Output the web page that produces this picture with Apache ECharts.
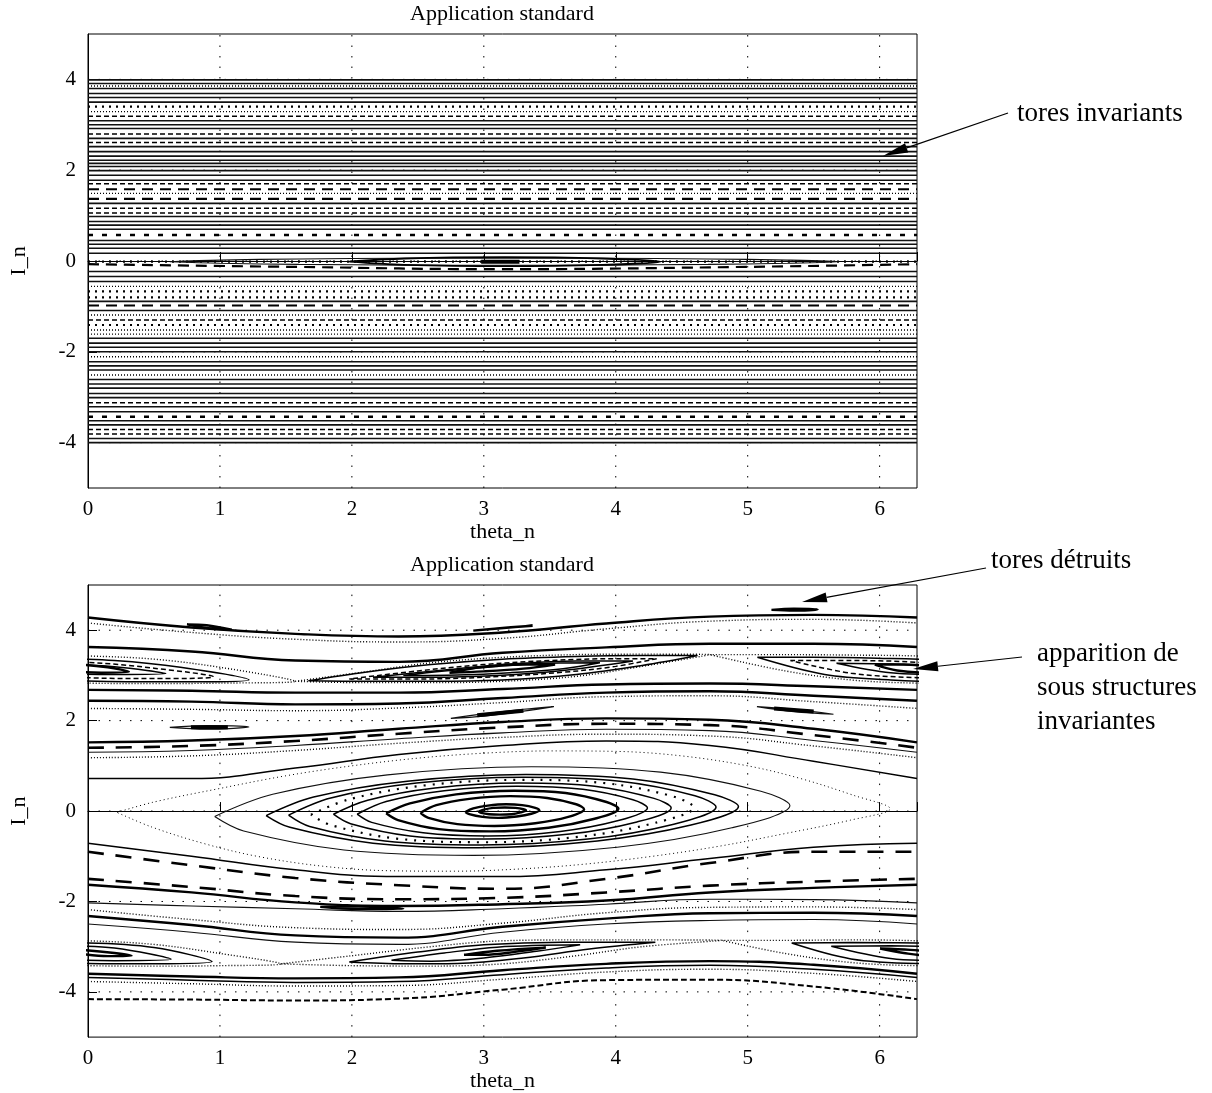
<!DOCTYPE html>
<html><head><meta charset="utf-8">
<script src="https://cdn.jsdelivr.net/npm/echarts@6/dist/echarts.min.js"></script>
<style>html,body{margin:0;padding:0;background:#fff}#c{width:1212px;height:1093px}</style>
</head><body><div id="c"></div>
<script>
const TWO_PI = 6.283185307179586;
const xTicks = [0, 1, 2, 3, 4, 5, 6];
const yTicks = [-4, -2, 0, 2, 4];
const titleText = 'Application standard';
const xName = 'theta_n';
const yName = 'I_n';

// ---------- top panel (weak kick): horizontal invariant tori ----------
const topSolidLevels = [3.99, 3.91, 3.80, 3.69, 3.60, 3.50, 3.09, 3.00, 2.92, 2.70, 2.52, 2.41, 2.31, 2.22, 2.15, 2.08, 1.99, 1.89, 1.78, 1.27, 0.98, 0.87, 0.79, 0.70, 0.45, 0.37, 0.28, 0.17, -0.23, -0.34, -0.45, -0.89, -1.09, -1.70, -1.81, -1.90, -2.00, -2.22, -2.31, -2.40, -2.61, -2.71, -2.80, -2.92, -3.01, -3.21, -3.32, -3.52, -3.61, -3.91, -4.00];
const topFineDotLevels = [3.855, 3.29, 1.49, -0.56, -1.19, -1.52, -1.61, -2.11, -2.51];
const topBoldDotLevels = [3.40, -0.015, -0.67, -0.80, -1.41];
const topShortDashLevels = [0.57, -3.43];
const topDashLevels = [3.19, 2.80, 2.61, 1.70, 1.16, 1.06, -1.30, -3.12, -3.71, -3.81];
const topLongDashLevels = [1.58, 1.37, -0.98];
const topCurveTheta = [0, 1.571, 3.142, 4.712, 6.283];
const topDashCurve = [-0.07, -0.13, -0.18, -0.14, -0.07];
const lensOuter = [[0.62,-0.015],[1.0,0.02],[1.6,0.045],[2.4,0.06],[3.15,0.065],[3.9,0.06],[4.7,0.045],[5.3,0.02],[5.69,-0.015],[5.3,-0.05],[4.7,-0.075],[3.9,-0.09],[3.15,-0.095],[2.4,-0.09],[1.6,-0.075],[1.0,-0.05],[0.62,-0.015]];
const lensMid = [[1.98,-0.015],[2.4,0.055],[3.16,0.085],[3.9,0.055],[4.34,-0.015],[3.9,-0.085],[3.16,-0.115],[2.4,-0.085],[1.98,-0.015]];
const lensCore = [[2.98,-0.015],[3.27,-0.015]];

// ---------- bottom panel (stronger kick) ----------
const TH = [0, 0.785, 1.571, 2.356, 3.142, 3.927, 4.712, 5.498, 6.283];
const U1a = [4.28, 4.06, 3.92, 3.86, 3.95, 4.15, 4.30, 4.34, 4.28];
const U1b = [4.16, 3.95, 3.80, 3.74, 3.82, 4.03, 4.20, 4.24, 4.16];
const U2  = [3.63, 3.53, 3.33, 3.30, 3.50, 3.62, 3.70, 3.70, 3.63];
const M1  = [2.68, 2.66, 2.62, 2.62, 2.70, 2.80, 2.82, 2.76, 2.68];
const M2  = [2.44, 2.42, 2.36, 2.38, 2.50, 2.62, 2.65, 2.55, 2.44];
const M3  = [2.27, 2.25, 2.22, 2.28, 2.40, 2.53, 2.55, 2.42, 2.27];
const B1  = [1.52, 1.56, 1.66, 1.82, 1.97, 2.05, 2.02, 1.82, 1.52];
const B2  = [1.40, 1.44, 1.55, 1.71, 1.85, 1.93, 1.90, 1.68, 1.40];
const B3  = [1.30, 1.34, 1.45, 1.60, 1.73, 1.81, 1.78, 1.56, 1.30];
const B4  = [1.18, 1.22, 1.34, 1.50, 1.63, 1.70, 1.66, 1.44, 1.18];
const R1  = [0.72, 0.72, 0.95, 1.25, 1.45, 1.55, 1.45, 1.10, 0.72];
const R1m = [-0.71, -1.00, -1.30, -1.45, -1.45, -1.30, -1.05, -0.80, -0.71];
const D1  = [-0.90, -1.20, -1.48, -1.64, -1.72, -1.50, -1.15, -0.90, -0.90];
const D2  = [-1.50, -1.68, -1.88, -1.95, -1.92, -1.80, -1.65, -1.56, -1.50];
const La  = [-1.63, -1.80, -2.02, -2.10, -2.06, -1.98, -1.80, -1.70, -1.63];
const Lb  = [-2.03, -2.10, -2.16, -2.22, -2.16, -2.06, -1.95, -1.96, -2.03];
const Lc  = [-2.18, -2.40, -2.58, -2.62, -2.48, -2.25, -2.13, -2.12, -2.18];
const Ld  = [-2.32, -2.52, -2.75, -2.80, -2.56, -2.38, -2.26, -2.25, -2.32];
const Le  = [-2.50, -2.68, -2.90, -2.95, -2.68, -2.50, -2.42, -2.40, -2.50];
const W1  = [-3.60, -3.66, -3.70, -3.68, -3.52, -3.38, -3.32, -3.40, -3.60];
const W2  = [-3.68, -3.74, -3.79, -3.77, -3.62, -3.47, -3.41, -3.50, -3.68];
const W3  = [-3.77, -3.82, -3.87, -3.86, -3.72, -3.56, -3.50, -3.59, -3.77];
const W4  = [-4.16, -4.17, -4.19, -4.15, -3.95, -3.74, -3.73, -3.88, -4.16];

// central island (theta, I)
const sepMain = [[0.22,-0.03],[0.5,0.2],[1.0,0.5],[1.5,0.78],[2.0,1.0],[2.5,1.17],[3.0,1.28],[3.5,1.33],[4.0,1.32],[4.5,1.22],[5.0,1.0],[5.4,0.72],[5.8,0.35],[6.08,0.05],[5.78,-0.2],[5.28,-0.5],[4.78,-0.78],[4.28,-1.0],[3.78,-1.17],[3.28,-1.28],[2.78,-1.33],[2.28,-1.32],[1.78,-1.22],[1.28,-1.0],[0.88,-0.72],[0.48,-0.35],[0.22,-0.03]];
const C2 = [[0.96,-0.12],[1.40,0.37],[2.27,0.80],[3.36,0.98],[4.34,0.86],[5.10,0.44],[5.32,0.12],[4.88,-0.37],[4.01,-0.80],[2.92,-0.98],[1.94,-0.86],[1.18,-0.44],[0.96,-0.12]];
const C3 = [[1.35,-0.10],[1.71,0.31],[2.42,0.66],[3.32,0.81],[4.13,0.71],[4.75,0.36],[4.93,0.10],[4.57,-0.31],[3.86,-0.66],[2.96,-0.81],[2.16,-0.71],[1.53,-0.36],[1.35,-0.10]];
const C4 = [[1.52,-0.09],[1.84,0.29],[2.49,0.62],[3.30,0.75],[4.03,0.66],[4.60,0.34],[4.76,0.09],[4.44,-0.29],[3.79,-0.62],[2.98,-0.75],[2.25,-0.66],[1.68,-0.34],[1.52,-0.09]];
const C5 = [[1.69,-0.08],[1.98,0.26],[2.56,0.57],[3.29,0.69],[3.94,0.61],[4.45,0.31],[4.59,0.08],[4.30,-0.26],[3.72,-0.57],[3.00,-0.69],[2.34,-0.61],[1.84,-0.31],[1.69,-0.08]];
const C6 = [[1.86,-0.07],[2.12,0.24],[2.63,0.51],[3.27,0.62],[3.84,0.55],[4.29,0.28],[4.42,0.07],[4.16,-0.24],[3.65,-0.51],[3.01,-0.62],[2.44,-0.55],[1.99,-0.28],[1.86,-0.07]];
const C7 = [[2.04,-0.07],[2.26,0.21],[2.70,0.45],[3.25,0.55],[3.75,0.48],[4.13,0.25],[4.24,0.07],[4.02,-0.21],[3.58,-0.45],[3.03,-0.55],[2.54,-0.48],[2.15,-0.25],[2.04,-0.07]];
const C8 = [[2.26,-0.05],[2.44,0.17],[2.79,0.37],[3.23,0.45],[3.62,0.40],[3.93,0.20],[4.02,0.05],[3.84,-0.17],[3.49,-0.37],[3.05,-0.45],[2.66,-0.40],[2.35,-0.20],[2.26,-0.05]];
const C9 = [[2.52,-0.04],[2.64,0.13],[2.89,0.27],[3.20,0.33],[3.48,0.29],[3.70,0.15],[3.76,0.04],[3.64,-0.13],[3.39,-0.27],[3.08,-0.33],[2.80,-0.29],[2.58,-0.15],[2.52,-0.04]];
const C10 = [[2.86,-0.02],[2.92,0.06],[3.03,0.12],[3.17,0.15],[3.29,0.13],[3.39,0.07],[3.42,0.02],[3.36,-0.06],[3.25,-0.12],[3.11,-0.15],[2.99,-0.13],[2.89,-0.07],[2.86,-0.02]];
const C11 = [[2.96,-0.01],[3.00,0.03],[3.07,0.07],[3.16,0.08],[3.24,0.07],[3.30,0.04],[3.32,0.01],[3.28,-0.03],[3.21,-0.07],[3.12,-0.08],[3.04,-0.07],[2.98,-0.04],[2.96,-0.01]];

// period-2 chain near I = +pi (island around theta = 0 given with negative theta)
const chainU0sep = [[-1.57,3.46],[-1.0,3.46],[-0.5,3.45],[0,3.43],[0.5,3.36],[1.0,3.18],[1.57,2.87],[1.0,2.83],[0.5,2.82],[0,2.83],[-0.5,2.90],[-1.0,3.10],[-1.57,3.46]];
const chainU0a = [[-1.21,3.40],[-0.8,3.40],[-0.3,3.38],[0.2,3.33],[0.7,3.18],[1.22,2.90],[0.8,2.86],[0.3,2.86],[-0.2,2.90],[-0.7,3.02],[-1.21,3.40]];
const chainU0b = [[-0.96,3.33],[-0.5,3.33],[0,3.29],[0.5,3.16],[0.95,2.97],[0.5,2.93],[0,2.95],[-0.5,3.05],[-0.96,3.33]];
const chainU0c = [[-0.61,3.27],[-0.2,3.25],[0.2,3.19],[0.59,3.04],[0.2,3.02],[-0.2,3.06],[-0.61,3.27]];
const chainU0in = [[-0.32,3.24],[-0.1,3.24],[0.15,3.18],[0.31,3.08],[0.1,3.06],[-0.15,3.11],[-0.32,3.24]];
const chainUPsep = [[1.57,2.87],[2.1,2.84],[2.6,2.84],[3.14,2.87],[3.7,2.98],[4.2,3.2],[4.71,3.46],[4.2,3.47],[3.7,3.46],[3.14,3.40],[2.6,3.28],[2.1,3.08],[1.57,2.87]];
const chainUPa = [[1.67,2.88],[2.1,2.87],[2.6,2.87],[3.14,2.90],[3.7,3.02],[4.2,3.22],[4.62,3.44],[4.2,3.44],[3.7,3.42],[3.14,3.36],[2.6,3.24],[2.1,3.07],[1.67,2.88]];
const chainUPb = [[1.98,2.92],[2.5,2.92],[3.0,2.96],[3.6,3.07],[4.0,3.2],[4.31,3.37],[4.0,3.37],[3.5,3.33],[3.0,3.24],[2.5,3.1],[1.98,2.92]];
const chainUPc = [[2.16,2.96],[2.6,2.96],[3.1,3.0],[3.6,3.11],[4.13,3.32],[3.7,3.32],[3.2,3.25],[2.7,3.12],[2.16,2.96]];
const chainUPd = [[2.39,3.0],[2.8,3.01],[3.2,3.06],[3.6,3.15],[3.88,3.28],[3.5,3.27],[3.1,3.2],[2.7,3.1],[2.39,3.0]];
const chainUPin = [[2.74,3.06],[3.0,3.09],[3.3,3.15],[3.54,3.24],[3.3,3.24],[3.0,3.19],[2.74,3.06]];

// period-2 chain near I = -pi
const chainL0sep = [[-1.48,-2.86],[-1.0,-2.86],[-0.5,-2.85],[0,-2.87],[0.5,-2.95],[1.0,-3.15],[1.46,-3.38],[1.0,-3.42],[0.5,-3.43],[0,-3.42],[-0.5,-3.35],[-1.0,-3.15],[-1.48,-2.86]];
const chainL0a = [[-0.95,-2.92],[-0.5,-2.91],[0,-2.92],[0.5,-3.02],[0.94,-3.33],[0.5,-3.38],[0,-3.37],[-0.5,-3.27],[-0.95,-2.92]];
const chainL0b = [[-0.65,-2.99],[-0.2,-2.98],[0.2,-3.03],[0.63,-3.28],[0.2,-3.31],[-0.2,-3.26],[-0.65,-2.99]];
const chainL0in = [[-0.28,-3.04],[-0.05,-3.07],[0.2,-3.14],[0.33,-3.2],[0.15,-3.21],[-0.1,-3.14],[-0.28,-3.04]];
const chainLPsep = [[1.46,-3.38],[2.0,-3.2],[2.6,-3.0],[3.14,-2.87],[3.7,-2.85],[4.2,-2.85],[4.8,-2.86],[4.2,-3.0],[3.7,-3.2],[3.14,-3.38],[2.6,-3.43],[2.0,-3.42],[1.46,-3.38]];
const chainLPa = [[1.98,-3.34],[2.5,-3.12],[3.0,-2.96],[3.6,-2.9],[4.3,-2.9],[3.8,-3.05],[3.3,-3.25],[2.8,-3.37],[2.4,-3.38],[1.98,-3.34]];
const chainLPb = [[2.3,-3.3],[2.7,-3.14],[3.1,-3.01],[3.73,-2.96],[3.4,-3.1],[3.0,-3.25],[2.6,-3.32],[2.3,-3.3]];
const chainLPin = [[2.85,-3.18],[3.1,-3.09],[3.47,-3.02],[3.25,-3.11],[3.0,-3.18],[2.85,-3.18]];

// small island chains
const T1 = [[0.75,4.13],[0.9,4.11],[1.09,4.01],[0.93,4.04],[0.75,4.13]];
const T2 = [[2.92,3.99],[3.1,4.04],[3.37,4.10],[3.15,4.05],[2.92,3.99]];
const T3 = [[5.18,4.45],[5.35,4.475],[5.53,4.46],[5.35,4.435],[5.18,4.45]];
const P1 = [[0.62,1.85],[0.9,1.89],[1.22,1.86],[0.9,1.81],[0.62,1.85]];
const P1in = [[0.78,1.855],[1.06,1.855]];
const P2 = [[2.75,2.05],[3.0,2.15],[3.3,2.25],[3.53,2.31],[3.3,2.21],[3.0,2.10],[2.75,2.05]];
const P2in = [[2.95,2.12],[3.3,2.22]];
const P3 = [[5.07,2.31],[5.35,2.25],[5.65,2.14],[5.35,2.20],[5.07,2.31]];
const P3in = [[5.2,2.27],[5.5,2.2]];
const Q1 = [[1.76,-2.12],[2.05,-2.11],[2.39,-2.16],[2.05,-2.17],[1.76,-2.12]];

// ---------------- build ----------------
const FONT = "'Liberation Serif', 'Times New Roman', serif";
const ST = {
  solid:   {color:'#111', width:1.1, type:'solid'},
  mid:     {color:'#000', width:1.5, type:'solid'},
  gray:    {color:'#111', width:1.6, type:'solid'},
  fineDot: {color:'#000', width:1.4, type:[1,2]},
  boldDot: {color:'#000', width:2.2, type:[2,5]},
  ringDot: {color:'#000', width:2.2, type:[2,7]},
  shortDash:{color:'#000', width:2.5, type:[5,9]},
  dash:    {color:'#000', width:1.5, type:[5,3]},
  boldDash:{color:'#000', width:2, type:[6,3]},
  longDash:{color:'#000', width:2.2, type:[11,7]},
  grid:    {color:'#000', width:1, type:[1.5,9]},
  chainDash:{color:'#000', width:2.6, type:[16,12]},
  bold:    {color:'#000', width:2.4, type:'solid'},
  lensBold:{color:'#000', width:1.8, type:'solid'},
  thick:   {color:'#000', width:4, type:'solid'},
  sep:     {color:'#000', width:1, type:[1,3]}
};
const series = [];
function add(gi, data, style, smooth, z) {
  series.push({type:'line', xAxisIndex:gi, yAxisIndex:gi, data:data, symbol:'none', showSymbol:false,
    smooth: smooth || false, lineStyle: Object.assign({}, style), silent:true, animation:false,
    emphasis:{disabled:true}, z: z || 3});
}
function hline(gi, lv, st) { add(gi, [[0, lv], [TWO_PI, lv]], st); }
function curve(gi, vals, st, th) { th = th || TH; add(gi, th.map((t, k) => [t, vals[k]]), st, 0.45); }
function loop(gi, pts, st, shift) { add(gi, pts.map(p => [p[0] + (shift || 0), p[1]]), st, 0.35); }
function loopWrap(gi, pts, st) { loop(gi, pts, st, 0); loop(gi, pts, st, TWO_PI); }

for (let gi = 0; gi < 2; gi++) {
  xTicks.filter(v => v > 0).forEach(v => add(gi, [[v, -5], [v, 5]], ST.grid, false, 1));
  yTicks.forEach(v => add(gi, [[0, v], [TWO_PI, v]], ST.grid, false, 1));
}

// top panel
topSolidLevels.forEach(v => hline(0, v, ST.gray));
topFineDotLevels.forEach(v => hline(0, v, ST.fineDot));
topBoldDotLevels.forEach(v => hline(0, v, ST.boldDot));
topShortDashLevels.forEach(v => hline(0, v, ST.shortDash));
topDashLevels.forEach(v => hline(0, v, ST.dash));
topLongDashLevels.forEach(v => hline(0, v, ST.longDash));
curve(0, topDashCurve, ST.longDash, topCurveTheta);
loop(0, lensOuter, ST.solid);
loop(0, lensMid, ST.lensBold);
add(0, lensCore, ST.thick);

// bottom panel
curve(1, U1a, ST.bold); curve(1, U1b, ST.fineDot); curve(1, U2, ST.bold);
curve(1, M1, ST.bold); curve(1, M2, ST.bold); curve(1, M3, ST.fineDot);
curve(1, B1, ST.bold); curve(1, B2, ST.chainDash); curve(1, B3, ST.solid); curve(1, B4, ST.fineDot);
curve(1, R1, ST.mid);
curve(1, R1m, ST.mid); curve(1, D1, ST.chainDash); curve(1, D2, ST.chainDash);
curve(1, La, ST.bold); curve(1, Lb, ST.solid); curve(1, Lc, ST.fineDot); curve(1, Ld, ST.bold); curve(1, Le, ST.solid);
curve(1, W1, ST.bold); curve(1, W2, ST.mid); curve(1, W3, ST.fineDot); curve(1, W4, ST.boldDash);
loop(1, sepMain, ST.sep);
loop(1, C2, ST.solid); loop(1, C3, ST.mid); loop(1, C4, ST.mid); loop(1, C5, ST.ringDot);
loop(1, C6, ST.mid); loop(1, C7, ST.mid); loop(1, C8, ST.bold); loop(1, C9, ST.bold);
loop(1, C10, ST.bold); loop(1, C11, ST.bold);
loopWrap(1, chainU0sep, ST.fineDot); loopWrap(1, chainU0a, ST.mid); loopWrap(1, chainU0b, ST.dash);
loopWrap(1, chainU0c, ST.mid); loopWrap(1, chainU0in, ST.bold);
loop(1, chainUPsep, ST.fineDot); loop(1, chainUPa, ST.mid); loop(1, chainUPb, ST.dash);
loop(1, chainUPc, ST.mid); loop(1, chainUPd, ST.mid); loop(1, chainUPin, ST.bold);
loopWrap(1, chainL0sep, ST.fineDot); loopWrap(1, chainL0a, ST.mid); loopWrap(1, chainL0b, ST.mid);
loopWrap(1, chainL0in, ST.bold);
loop(1, chainLPsep, ST.fineDot); loop(1, chainLPa, ST.mid); loop(1, chainLPb, ST.mid); loop(1, chainLPin, ST.bold);
[T1, T2, T3].forEach(p => loop(1, p, ST.bold));
loop(1, P1, ST.solid); add(1, P1in, ST.thick);
loop(1, P2, ST.solid); add(1, P2in, ST.thick);
loop(1, P3, ST.solid); add(1, P3in, ST.thick);
loop(1, Q1, ST.bold);

function xAxisCfg(gi) {
  return {gridIndex: gi, type: 'value', min: 0, max: TWO_PI, interval: 1,
    axisLine: {show: true, lineStyle: {color: '#000', width: 1}},
    axisTick: {show: true, inside: true, length: 9, lineStyle: {color: '#000'}},
    axisLabel: {color: '#000', fontFamily: FONT, fontSize: 21, margin: 11,
      formatter: v => (Math.abs(v - Math.round(v)) < 1e-9 ? String(Math.round(v)) : '')},
    splitLine: {show: false},
    name: xName, nameLocation: 'middle', nameGap: 29,
    nameTextStyle: {color: '#000', fontFamily: FONT, fontSize: 22}};
}
function yAxisCfg(gi) {
  return {gridIndex: gi, type: 'value', min: -5, max: 5, interval: 1,
    axisLine: {show: true, lineStyle: {color: '#000', width: 1}},
    axisTick: {show: true, inside: true, length: 9, customValues: yTicks, lineStyle: {color: '#000'}},
    axisLabel: {color: '#000', fontFamily: FONT, fontSize: 21, margin: 12, customValues: yTicks,
      formatter: v => (v % 2 === 0 ? String(v) : '')},
    splitLine: {show: false},
    name: yName, nameLocation: 'middle', nameGap: 58,
    nameTextStyle: {color: '#000', fontFamily: FONT, fontSize: 22}};
}

function arrow(x1, y1, x2, y2) {
  const dx = x2 - x1, dy = y2 - y1, L = Math.hypot(dx, dy), ux = dx / L, uy = dy / L;
  const hl = 25, hw = 5;
  const bx = x2 - ux * hl, by = y2 - uy * hl;
  return [
    {type: 'line', shape: {x1: x1, y1: y1, x2: bx, y2: by}, style: {stroke: '#000', lineWidth: 1.2}, z: 10},
    {type: 'polygon', shape: {points: [[x2, y2], [bx - uy * hw, by + ux * hw], [bx + uy * hw, by - ux * hw]]}, style: {fill: '#000'}, z: 10}
  ];
}
function label(x, y, text, size, align) {
  return {type: 'text', x: x, y: y, z: 10,
    style: {text: text, font: size + 'px ' + FONT, fill: '#000', align: align || 'left', verticalAlign: 'middle',
      textAlign: align || 'left', textVerticalAlign: 'middle'}};
}

const graphic = [].concat(
  [label(502, 14, titleText, 22, 'center'), label(502, 565, titleText, 22, 'center')],
  [label(1017, 114, 'tores invariants', 27)], arrow(1008, 113, 883, 156),
  [label(991, 561, 'tores détruits', 27)], arrow(986, 568, 802, 602),
  [label(1037, 654, 'apparition de', 27), label(1037, 688, 'sous structures', 27), label(1037, 722, 'invariantes', 27)],
  arrow(1022, 657, 913, 669)
);

const chart = echarts.init(document.getElementById('c'), null, {renderer: 'canvas'});
chart.setOption({
  animation: false,
  backgroundColor: '#fff',
  grid: [
    {left: 88, top: 34, width: 829, height: 454, show: true, borderColor: '#000', borderWidth: 1, containLabel: false},
    {left: 88, top: 585, width: 829, height: 455, show: true, borderColor: '#000', borderWidth: 1, containLabel: false}
  ],
  xAxis: [xAxisCfg(0), xAxisCfg(1)],
  yAxis: [yAxisCfg(0), yAxisCfg(1)],
  series: series,
  graphic: graphic
});
</script></body></html>
